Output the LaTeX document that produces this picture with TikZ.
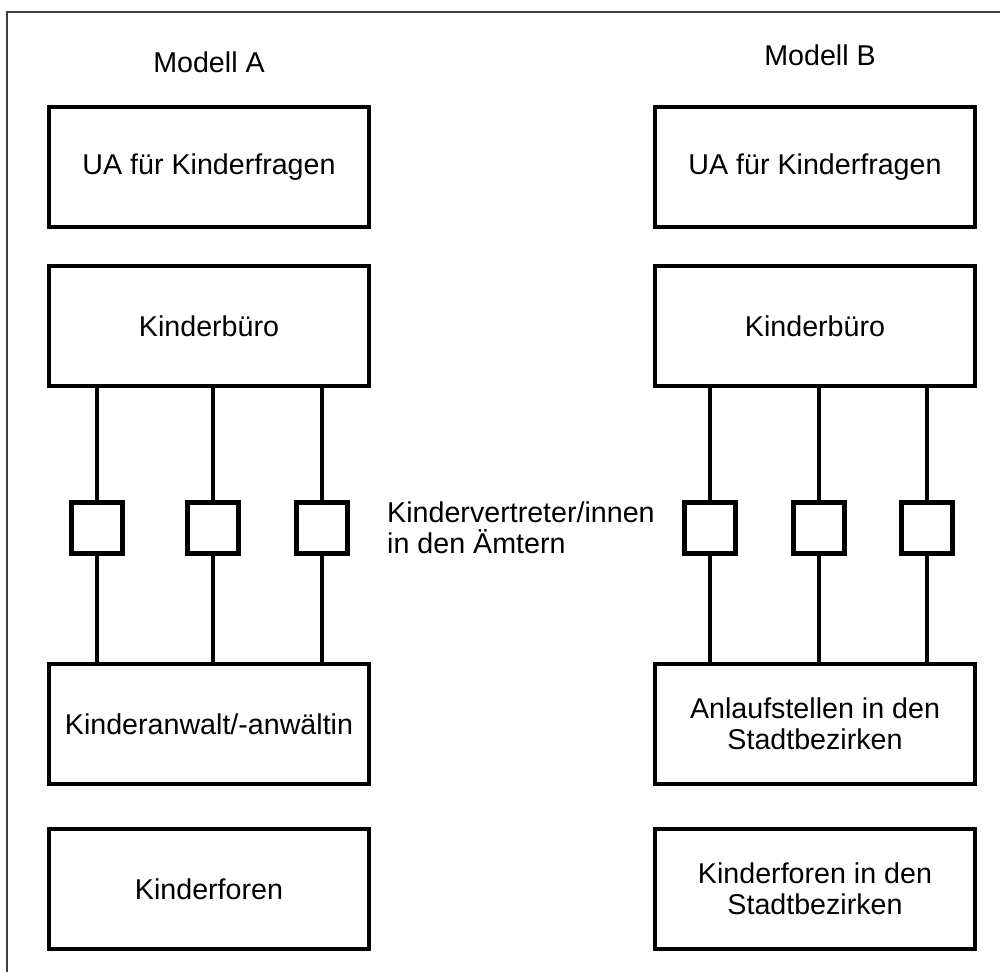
\documentclass[tikz,border=0pt]{standalone}
\usepackage{fontspec}
\setmainfont{Liberation Sans}
\usetikzlibrary{positioning}

\begin{document}
\begin{tikzpicture}[x=0.02cm, y=-0.02cm,
  every node/.style={font=\fontsize{16.3}{17.5}\selectfont},
  orgbox/.style={draw, line width=2.6pt, minimum width=6.4cm, minimum height=2.4cm, align=center},
  repbox/.style={draw, line width=2.9pt, minimum width=1.02cm, minimum height=1.02cm},
  link/.style={line width=2.2pt}]
  \useasboundingbox (0,0) rectangle (1000,972);

  % Frame, only top and left edge are visible
  \draw[line width=0.6pt, black!75] (7,972) -- (7,12) -- (1000,12);

  % Modell A
  \node (titleA) at (209,62) {Modell A};
  \node[orgbox] (uaA) at (209,167) {UA für Kinderfragen};
  \node[orgbox] (kbA) at (209,326) {Kinderbüro};
  \node[orgbox] (kaA) at (209,724) {Kinderanwalt/-anwältin};
  \node[orgbox] (kfA) at (209,889) {Kinderforen};

  % Modell B
  \node (titleB) at (820,55) {Modell B};
  \node[orgbox] (uaB) at (815,167) {UA für Kinderfragen};
  \node[orgbox] (kbB) at (815,326) {Kinderbüro};
  \node[orgbox] (asB) at (815,724) {Anlaufstellen in den\\Stadtbezirken};
  \node[orgbox] (kfB) at (815,889) {Kinderforen in den\\Stadtbezirken};

  % Kindervertreter in den Aemtern
  \foreach \n/\x in {1/97, 2/213, 3/322} {
    \node[repbox] (sqA\n) at (\x,528) {};
    \draw[link] (kbA.south -| sqA\n) -- (sqA\n);
    \draw[link] (sqA\n) -- (kaA.north -| sqA\n);
  }
  \foreach \n/\x in {1/710, 2/819, 3/927} {
    \node[repbox] (sqB\n) at (\x,528) {};
    \draw[link] (kbB.south -| sqB\n) -- (sqB\n);
    \draw[link] (sqB\n) -- (asB.north -| sqB\n);
  }

  \node[right=0.62cm of sqA3, align=left] (repLabel) {Kindervertreter/innen\\in den Ämtern};
\end{tikzpicture}
\end{document}
